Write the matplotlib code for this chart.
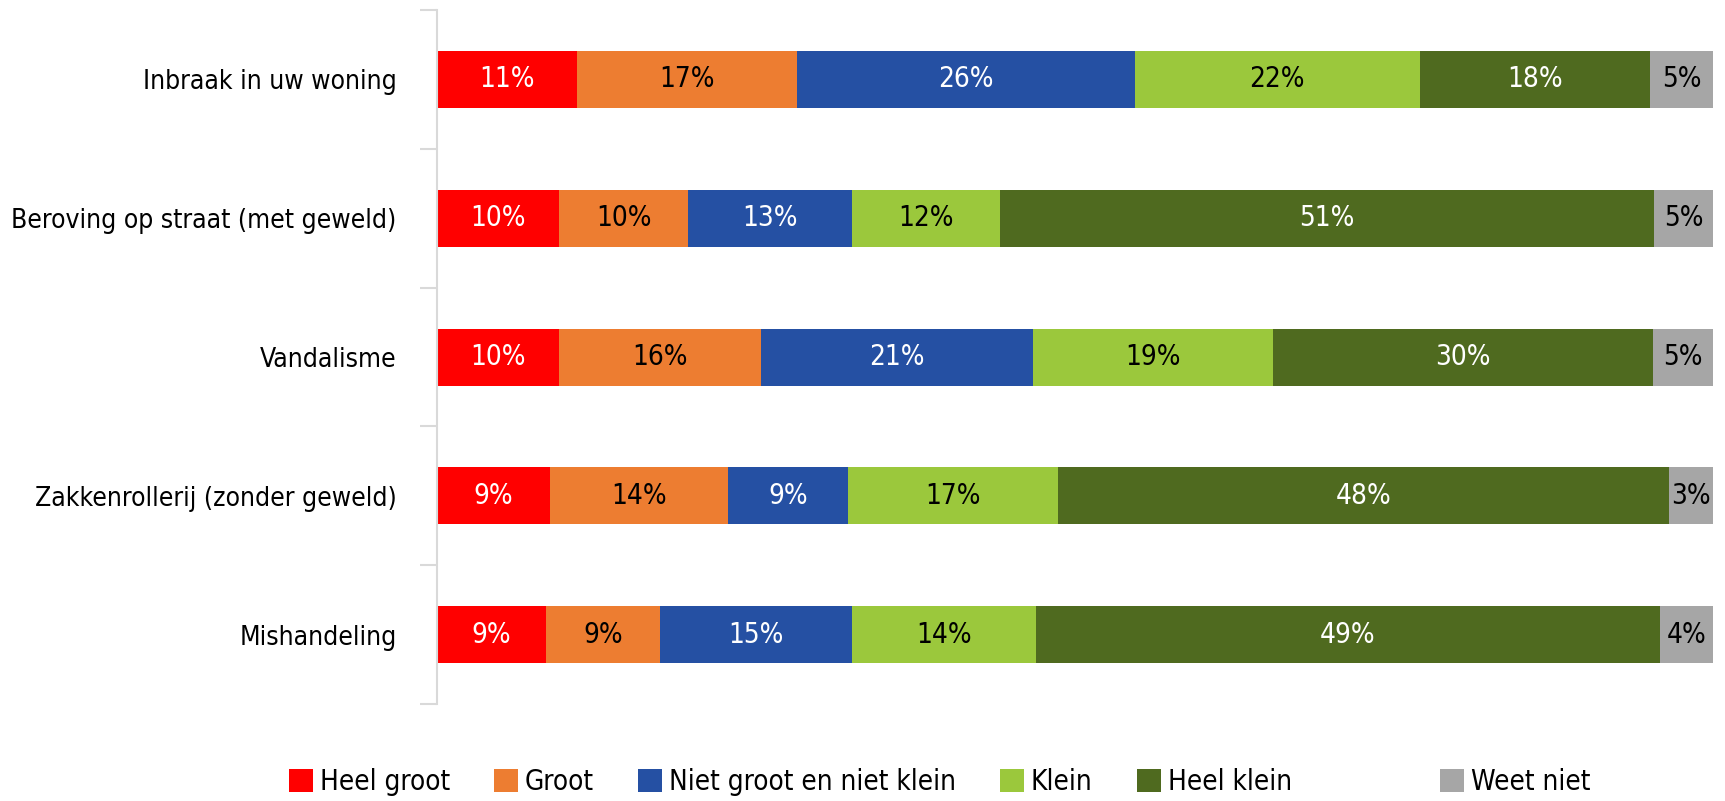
import matplotlib
matplotlib.use('Agg')
import matplotlib.pyplot as plt
import numpy as np

plt.rcParams['font.family'] = ['DejaVu Sans']
plt.rcParams['font.stretch'] = 'condensed'

categories = ['Inbraak in uw woning', 'Beroving op straat (met geweld)', 'Vandalisme',
              'Zakkenrollerij (zonder geweld)', 'Mishandeling']
series = ['Heel groot', 'Groot', 'Niet groot en niet klein', 'Klein', 'Heel klein', 'Weet niet']

# shares per category (percent)
heel_groot = [10.99, 9.59, 9.55, 8.86, 8.58]
groot = [17.26, 10.12, 15.85, 13.97, 8.89]
neutraal = [26.44, 12.85, 21.30, 9.35, 15.09]
klein = [22.35, 11.56, 18.85, 16.52, 14.36]
heel_klein = [18.04, 51.27, 29.75, 47.88, 48.97]
weet_niet = [4.93, 4.61, 4.70, 3.42, 4.11]

colors = ['#FF0000', '#ED7D31', '#2550A3', '#9BC83C', '#4F6A1F', '#A6A6A6']
text_colors = ['white', 'black', 'white', 'black', 'white', 'black']

data = np.array([heel_groot, groot, neutraal, klein, heel_klein, weet_niet])

fig = plt.figure(figsize=(17.25, 8.01), dpi=100)
ax = fig.add_axes([0.2533, 0.121, 0.9930 - 0.2533, 0.9875 - 0.121])

y = np.arange(len(categories))
left = np.zeros(len(categories))
handles = []
for i, name in enumerate(series):
    bars = ax.barh(y, data[i], left=left, height=0.41, color=colors[i], label=name)
    handles.append(bars)
    for j, v in enumerate(data[i]):
        ax.text(left[j] + v / 2, y[j], f'{round(v):.0f}%', ha='center', va='center',
                color=text_colors[i], fontsize=20)
    left += data[i]

ax.set_xlim(0, 100)
ax.set_ylim(len(categories) - 0.5, -0.5)
ax.set_yticks(y)
ax.set_yticklabels(categories, fontsize=19)
ax.set_yticks(np.arange(-0.5, len(categories)), minor=True)
ax.tick_params(axis='y', which='major', length=0, pad=29)
ax.tick_params(axis='y', which='minor', length=12, color='#d9d9d9', width=1.5)
ax.set_xticks([])
for s in ['top', 'right', 'bottom']:
    ax.spines[s].set_visible(False)
ax.spines['left'].set_color('#d9d9d9')
ax.spines['left'].set_linewidth(1.5)

# legend: first five entries together, "Weet niet" set apart as in the original
leg_y = 1 - 782 / 801
leg_kw = dict(frameon=False, fontsize=20, handlelength=0.86, handleheight=0.86,
              handletextpad=0.24, columnspacing=1.6, borderpad=0, borderaxespad=0)
leg1 = fig.legend(handles=handles[:5], loc='center left', bbox_to_anchor=(289 / 1725, leg_y),
                  ncol=5, **leg_kw)
leg2 = fig.legend(handles=handles[5:], loc='center left', bbox_to_anchor=(1440 / 1725, leg_y),
                  ncol=1, **leg_kw)

fig.savefig('out.png', dpi=100)
